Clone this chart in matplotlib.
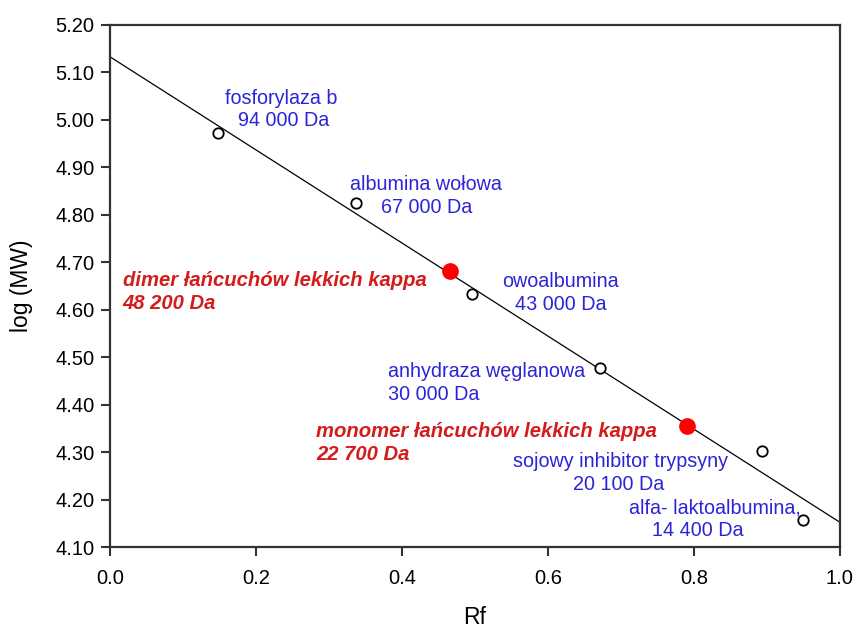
import matplotlib.pyplot as plt
import numpy as np

plt.rcParams["font.family"] = ["Liberation Sans", "DejaVu Sans"]

# protein standards: relative mobility and molecular mass (Da)
std_names = ["fosforylaza b", "albumina wołowa", "owoalbumina", "anhydraza węglanowa",
             "sojowy inhibitor trypsyny", "alfa- laktoalbumina,"]
std_mass_labels = ["94 000 Da", "67 000 Da", "43 000 Da", "30 000 Da", "20 100 Da", "14 400 Da"]
std_rf = [0.148, 0.337, 0.496, 0.671, 0.894, 0.950]
std_mw = [94000, 67000, 43000, 30000, 20100, 14400]

# kappa light chain bands
kappa_names = ["dimer łańcuchów lekkich kappa", "monomer łańcuchów lekkich kappa"]
kappa_mass_labels = ["48 200 Da", "22 700 Da"]
kappa_rf = [0.466, 0.791]
kappa_mw = [48200, 22700]

x_ticks = [0.0, 0.2, 0.4, 0.6, 0.8, 1.0]
y_ticks = [4.10, 4.20, 4.30, 4.40, 4.50, 4.60, 4.70, 4.80, 4.90, 5.00, 5.10, 5.20]

# label placement: (x, y, ha) for the name line and the mass line
std_label_pos = [
    [(0.234, 5.046, "center"), (0.238, 4.998, "center")],
    [(0.433, 4.865, "center"), (0.434, 4.815, "center")],
    [(0.617, 4.661, "center"), (0.617, 4.611, "center")],
    [(0.381, 4.470, "left"), (0.381, 4.423, "left")],
    [(0.700, 4.280, "center"), (0.697, 4.232, "center")],
    [(0.829, 4.183, "center"), (0.806, 4.135, "center")],
]
kappa_label_pos = [
    [(0.017, 4.662, "left"), (0.017, 4.613, "left")],
    [(0.282, 4.344, "left"), (0.282, 4.295, "left")],
]

blue = "#2c24d8"
red = "#d41c1c"

std_log = np.log10(std_mw)
kappa_log = np.log10(kappa_mw)
slope, intercept = np.polyfit(std_rf, std_log, 1)

fig = plt.figure(figsize=(8.56, 6.29), dpi=100)
ax = fig.add_axes([0.129, 0.1296, 0.852, 0.8307])

xs = np.array([0.0, 1.0])
ax.plot(xs, intercept + slope * xs, color="black", lw=0.9, zorder=2)
ax.plot(std_rf, std_log, "o", ms=7.5, mfc="white", mec="black", mew=1.3, zorder=3)
ax.plot(kappa_rf, kappa_log, "o", ms=11, color="#ff0000", zorder=3)

for (name, mass), pos in zip(zip(std_names, std_mass_labels), std_label_pos):
    for text, (tx, ty, ha) in zip([name, mass], pos):
        ax.text(tx, ty, text, ha=ha, va="center", fontsize=14.2, color=blue)

for (name, mass), pos in zip(zip(kappa_names, kappa_mass_labels), kappa_label_pos):
    for text, (tx, ty, ha) in zip([name, mass], pos):
        ax.text(tx, ty, text, ha=ha, va="center", fontsize=14.6, color=red,
                fontweight="bold", fontstyle="italic")

ax.set_xlim(0, 1.0)
ax.set_ylim(4.10, 5.20)
ax.set_xticks(x_ticks)
ax.set_xticklabels([f"{v:.1f}" for v in x_ticks])
ax.set_yticks(y_ticks)
ax.set_yticklabels([f"{v:.2f}" for v in y_ticks])
ax.tick_params(axis="both", direction="out", length=6.5, width=1.5, color="#333333",
               labelsize=14.5, top=False, right=False)
ax.tick_params(axis="x", pad=9)
ax.tick_params(axis="y", pad=5)
for side in ax.spines.values():
    side.set_linewidth(1.6)
    side.set_color("#333333")

ax.set_xlabel("Rf", fontsize=16.5, labelpad=13)
ax.set_ylabel("log (MW)", fontsize=16.5, labelpad=16)

fig.savefig("out.png", dpi=100)
